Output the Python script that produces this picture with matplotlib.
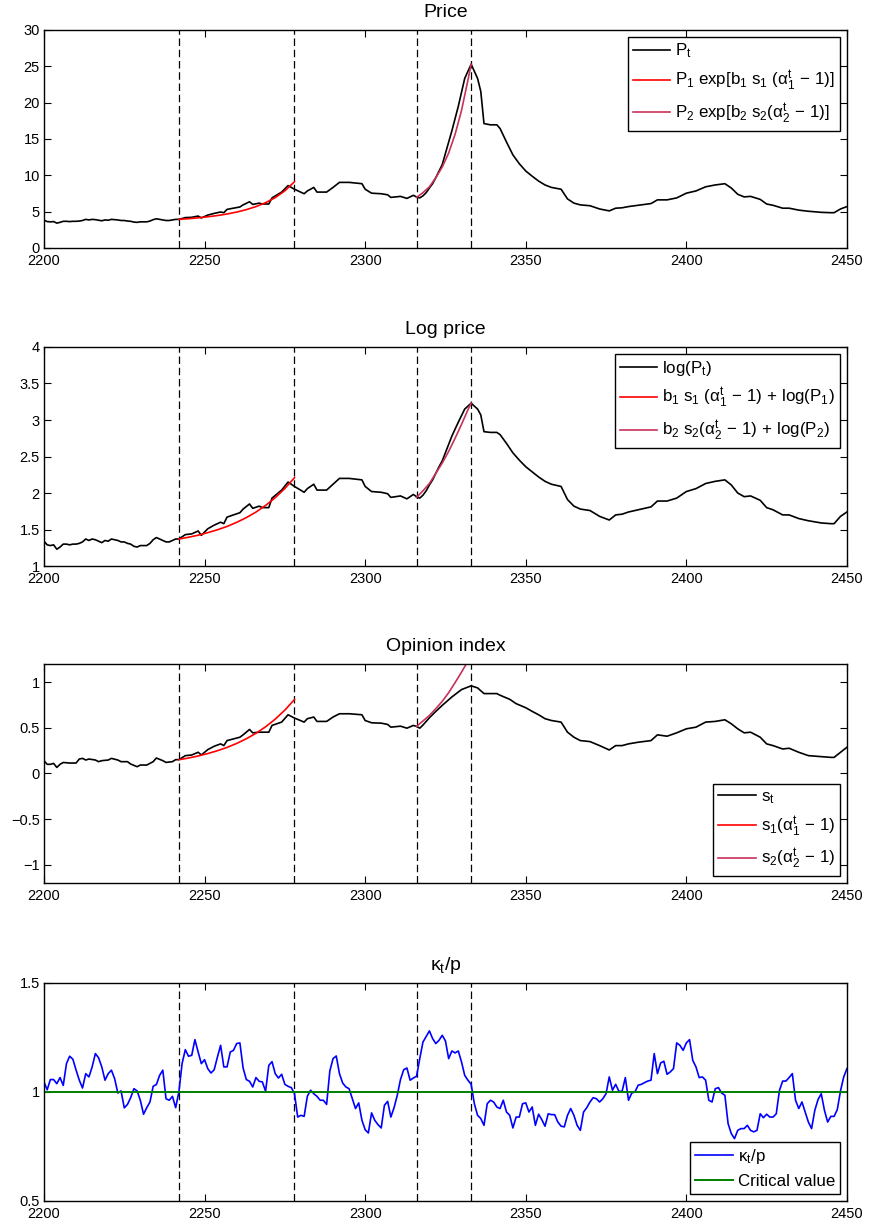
import numpy as np
import matplotlib
matplotlib.use('Agg')
import matplotlib.pyplot as plt
from matplotlib.ticker import FuncFormatter

plt.rcParams['font.family'] = ['Liberation Sans', 'DejaVu Sans']
plt.rcParams['mathtext.fontset'] = 'custom'
plt.rcParams['mathtext.rm'] = 'Liberation Sans'
plt.rcParams['mathtext.it'] = 'Liberation Sans:italic'
plt.rcParams['mathtext.default'] = 'regular'

# regime boundaries (dashed lines)
regime_days = [2242, 2278, 2316, 2333]

# log price
log_days = [2200, 2201, 2202, 2203, 2204, 2205, 2206, 2207, 2208, 2209, 2210, 2211, 2212,
            2213, 2214, 2215, 2216, 2217, 2218, 2219, 2220, 2221, 2222, 2223, 2224, 2225,
            2226, 2227, 2228, 2229, 2230, 2231, 2232, 2233, 2234, 2235, 2236, 2237, 2238,
            2239, 2240, 2241, 2242, 2244, 2246, 2248, 2249, 2251, 2253, 2255, 2256, 2257,
            2259, 2261, 2262, 2264, 2265, 2267, 2268, 2270, 2271, 2274, 2276, 2278, 2281,
            2282, 2284, 2285, 2288, 2290, 2292, 2295, 2299, 2300, 2302, 2305, 2307, 2308,
            2311, 2313, 2315, 2316, 2317, 2318, 2319, 2320, 2321, 2322, 2323, 2324, 2327,
            2329, 2331, 2333, 2335, 2336, 2337, 2339, 2341, 2342, 2344, 2346, 2348, 2350,
            2352, 2354, 2356, 2358, 2361, 2363, 2365, 2367, 2370, 2373, 2376, 2378, 2380,
            2382, 2385, 2389, 2391, 2394, 2397, 2400, 2403, 2406, 2409, 2412, 2414, 2416,
            2418, 2420, 2423, 2425, 2427, 2430, 2432, 2435, 2438, 2442, 2445, 2446, 2448, 2450]
log_price = [1.34, 1.29, 1.28, 1.29, 1.23, 1.26, 1.30, 1.30, 1.29, 1.30, 1.30, 1.31, 1.33,
             1.37, 1.35, 1.37, 1.36, 1.34, 1.32, 1.35, 1.34, 1.37, 1.36, 1.35, 1.33, 1.33,
             1.31, 1.30, 1.27, 1.26, 1.28, 1.28, 1.28, 1.31, 1.36, 1.39, 1.37, 1.35, 1.33,
             1.33, 1.35, 1.37, 1.37, 1.43, 1.44, 1.48, 1.42, 1.51, 1.56, 1.60, 1.58, 1.67,
             1.70, 1.73, 1.78, 1.85, 1.79, 1.82, 1.80, 1.80, 1.93, 2.04, 2.15, 2.09, 2.01,
             2.06, 2.12, 2.04, 2.04, 2.12, 2.20, 2.20, 2.18, 2.09, 2.02, 2.01, 1.99, 1.94,
             1.96, 1.92, 1.98, 1.95, 1.93, 1.97, 2.03, 2.11, 2.18, 2.27, 2.36, 2.44, 2.78,
             2.97, 3.15, 3.23, 3.15, 3.07, 2.84, 2.83, 2.83, 2.80, 2.68, 2.55, 2.45, 2.36,
             2.29, 2.22, 2.16, 2.12, 2.09, 1.91, 1.82, 1.78, 1.76, 1.68, 1.63, 1.70, 1.71,
             1.74, 1.77, 1.81, 1.89, 1.89, 1.93, 2.02, 2.06, 2.13, 2.16, 2.18, 2.11, 2.00,
             1.95, 1.96, 1.90, 1.80, 1.77, 1.70, 1.70, 1.65, 1.62, 1.59, 1.58, 1.58, 1.68, 1.74]
price = np.exp(log_price)

# opinion index s_t
s_days = [2200, 2201, 2202, 2203, 2204, 2205, 2206, 2208, 2210, 2211, 2212, 2213, 2214,
          2216, 2217, 2218, 2220, 2221, 2223, 2224, 2226, 2227, 2229, 2230, 2232, 2234,
          2235, 2237, 2238, 2240, 2241, 2242, 2244, 2246, 2248, 2249, 2251, 2253, 2255,
          2256, 2257, 2259, 2261, 2262, 2264, 2265, 2267, 2268, 2270, 2271, 2274, 2276,
          2278, 2281, 2282, 2284, 2285, 2288, 2290, 2292, 2295, 2299, 2300, 2302, 2305,
          2307, 2308, 2311, 2313, 2315, 2316, 2317, 2318, 2319, 2320, 2322, 2324, 2327,
          2330, 2333, 2335, 2337, 2339, 2341, 2342, 2345, 2347, 2350, 2352, 2354, 2356,
          2358, 2361, 2363, 2365, 2367, 2370, 2373, 2376, 2378, 2380, 2382, 2385, 2389,
          2391, 2394, 2397, 2400, 2403, 2406, 2409, 2412, 2414, 2416, 2418, 2420, 2423,
          2425, 2427, 2430, 2432, 2435, 2438, 2442, 2445, 2446, 2448, 2450]
opinion = [0.14, 0.10, 0.10, 0.11, 0.066, 0.10, 0.12, 0.114, 0.114, 0.158, 0.165, 0.147, 0.158,
           0.147, 0.129, 0.14, 0.147, 0.165, 0.147, 0.129, 0.129, 0.103, 0.074, 0.092, 0.092, 0.129,
           0.169, 0.14, 0.121, 0.129, 0.151, 0.151, 0.195, 0.202, 0.232, 0.202, 0.261, 0.298, 0.324,
           0.305, 0.36, 0.379, 0.397, 0.423, 0.482, 0.445, 0.452, 0.452, 0.452, 0.526, 0.5625, 0.643,
           0.607, 0.5625, 0.60, 0.618, 0.57, 0.57, 0.618, 0.654, 0.654, 0.643, 0.58, 0.555, 0.551,
           0.537, 0.507, 0.518, 0.496, 0.526, 0.515, 0.496, 0.53, 0.57, 0.61, 0.68, 0.746, 0.838,
           0.919, 0.96, 0.9375, 0.875, 0.875, 0.875, 0.857, 0.8125, 0.765, 0.72, 0.68, 0.643, 0.60,
           0.58, 0.5625, 0.452, 0.397, 0.36, 0.349, 0.305, 0.257, 0.305, 0.305, 0.324, 0.342, 0.36,
           0.423, 0.408, 0.445, 0.489, 0.507, 0.5625, 0.57, 0.588, 0.544, 0.489, 0.445, 0.452, 0.397,
           0.324, 0.305, 0.268, 0.276, 0.232, 0.195, 0.184, 0.176, 0.176, 0.232, 0.287]

# fitted curves for the two bubble regimes
fit1_days = [2242, 2245, 2248, 2251, 2254, 2257, 2260, 2263, 2266, 2269, 2272, 2275, 2278]
fit1_log = [1.370, 1.394, 1.422, 1.457, 1.496, 1.542, 1.598, 1.663, 1.739, 1.830, 1.936, 2.062, 2.210]
fit1_s = [0.150, 0.169, 0.191, 0.218, 0.249, 0.285, 0.329, 0.380, 0.440, 0.511, 0.595, 0.694, 0.810]
fit2_days = [2316, 2318, 2320, 2322, 2324, 2326, 2328, 2330, 2332, 2333]
fit2_log = [1.94, 2.03, 2.13, 2.27, 2.41, 2.57, 2.75, 2.94, 3.14, 3.23]
fit2_s = [0.515, 0.575, 0.635, 0.71, 0.79, 0.885, 0.995, 1.11, 1.23, 1.30]

# kappa_t / p, daily
kappa_days = list(range(2200, 2451))
kappa = [1.046, 1.01, 1.057, 1.057, 1.038, 1.066, 1.03, 1.13, 1.164, 1.15,
         1.10, 1.054, 1.018, 1.084, 1.069, 1.115, 1.176, 1.157, 1.115, 1.054,
         1.084, 1.10, 1.061, 0.995, 1.005, 0.927, 0.943, 0.974, 1.015, 1.005,
         0.962, 0.898, 0.928, 0.954, 1.026, 1.034, 1.076, 1.10, 0.969, 0.962,
         0.98, 0.928, 1.0, 1.13, 1.194, 1.164, 1.168, 1.24, 1.183, 1.13,
         1.148, 1.107, 1.087, 1.102, 1.16, 1.214, 1.115, 1.115, 1.183, 1.191,
         1.222, 1.225, 1.11, 1.057, 1.049, 1.023, 1.066, 1.049, 1.046, 1.003,
         1.122, 1.139, 1.084, 1.064, 1.081, 1.035, 1.026, 1.02, 0.992, 0.885,
         0.893, 0.888, 0.98, 1.008, 0.992, 0.98, 0.962, 0.962, 0.943, 1.096,
         1.153, 1.165, 1.084, 1.041, 1.023, 1.015, 0.969, 0.924, 0.95, 0.87,
         0.827, 0.812, 0.904, 0.87, 0.85, 0.835, 0.939, 0.957, 0.885, 0.928,
         0.985, 1.057, 1.102, 1.11, 1.054, 1.064, 1.072, 1.153, 1.229, 1.255,
         1.28, 1.245, 1.222, 1.237, 1.26, 1.234, 1.153, 1.188, 1.179, 1.188,
         1.138, 1.076, 1.054, 1.035, 0.946, 0.893, 0.878, 0.847, 0.946, 0.962,
         0.954, 0.931, 0.924, 0.962, 0.908, 0.893, 0.835, 0.885, 0.885, 0.946,
         0.95, 0.908, 0.931, 0.847, 0.898, 0.873, 0.843, 0.90, 0.896, 0.896,
         0.862, 0.843, 0.84, 0.893, 0.924, 0.893, 0.847, 0.824, 0.908, 0.928,
         0.954, 0.974, 0.969, 0.954, 0.969, 0.992, 1.069, 1.008, 1.035, 1.003,
         1.003, 1.066, 0.962, 0.995, 1.0, 1.031, 1.035, 1.043, 1.05, 1.054,
         1.176, 1.084, 1.133, 1.141, 1.081, 1.092, 1.107, 1.225, 1.214, 1.191,
         1.225, 1.24, 1.145, 1.115, 1.066, 1.069, 1.054, 0.962, 0.954, 1.015,
         1.02, 0.995, 0.985, 0.855, 0.809, 0.786, 0.824, 0.832, 0.832, 0.847,
         0.824, 0.817, 0.824, 0.90, 0.882, 0.898, 0.885, 0.885, 0.90, 1.008,
         1.05, 1.05, 1.066, 1.084, 0.962, 0.924, 0.954, 0.908, 0.862, 0.832,
         0.916, 0.965, 0.992, 0.916, 0.862, 0.888, 0.888, 0.919, 1.005, 1.069,
         1.107]
critical_value = 1.0

FIT2_COLOR = '#c8325a'

fig = plt.figure(figsize=(8.69, 12.27), dpi=100)
boxes = [(0.0506, 0.7979, 0.924, 0.1777),
         (0.0506, 0.5387, 0.924, 0.1785),
         (0.0506, 0.2804, 0.924, 0.1785),
         (0.0506, 0.0212, 0.924, 0.1777)]
axes = [fig.add_axes(b) for b in boxes]

fmt = FuncFormatter(lambda v, p: ('%g' % v).replace('-', '\u2212'))


def style(ax, yticks, ylim):
    ax.set_xlim(2200, 2450)
    ax.set_xticks([2200, 2250, 2300, 2350, 2400, 2450])
    ax.set_ylim(*ylim)
    ax.set_yticks(yticks)
    ax.yaxis.set_major_formatter(fmt)
    ax.tick_params(direction='in', top=True, right=True, length=5, width=0.8,
                   labelsize=10.5)
    ax.tick_params(axis='x', pad=4.5)
    ax.tick_params(axis='y', pad=3)
    for sp in ax.spines.values():
        sp.set_linewidth(1.0)
    for d in regime_days:
        ax.axvline(d, color='k', lw=0.9, dashes=(6.0, 3.0), zorder=1)


def add_legend(ax, loc):
    leg = ax.legend(loc=loc, fontsize=12.2, fancybox=False, framealpha=1,
                    edgecolor='k', handlelength=2.2, handletextpad=0.3,
                    borderaxespad=0.4, labelspacing=0.5, borderpad=0.3)
    leg.get_frame().set_linewidth(1.0)


# Price
ax = axes[0]
style(ax, [0, 5, 10, 15, 20, 25, 30], (0, 30))
ax.plot(log_days, price, color='k', lw=1.2, label=r'$P_t$')
ax.plot(fit1_days, np.exp(fit1_log), color='red', lw=1.2,
        label=r'$P_1\ exp[b_1\ s_1\ (\alpha_1^t\,-\,1)]$')
ax.plot(fit2_days, np.exp(fit2_log), color=FIT2_COLOR, lw=1.2,
        label=r'$P_2\ exp[b_2\ s_2(\alpha_2^t\,-\,1)]$')
ax.set_title('Price', fontsize=14, pad=9)
add_legend(ax, 'upper right')

# Log price
ax = axes[1]
style(ax, [1, 1.5, 2, 2.5, 3, 3.5, 4], (1, 4))
ax.plot(log_days, log_price, color='k', lw=1.2, label=r'$log(P_t)$')
ax.plot(fit1_days, fit1_log, color='red', lw=1.2,
        label=r'$b_1\ s_1\ (\alpha_1^t\,-\,1)\,+\,log(P_1)$')
ax.plot(fit2_days, fit2_log, color=FIT2_COLOR, lw=1.2,
        label=r'$b_2\ s_2(\alpha_2^t\,-\,1)\,+\,log(P_2)$')
ax.set_title('Log price', fontsize=14, pad=9)
add_legend(ax, 'upper right')

# Opinion index
ax = axes[2]
style(ax, [-1, -0.5, 0, 0.5, 1], (-1.2, 1.2))
ax.plot(s_days, opinion, color='k', lw=1.2, label=r'$s_t$')
ax.plot(fit1_days, fit1_s, color='red', lw=1.2, label=r'$s_1(\alpha_1^t\,-\,1)$')
ax.plot(fit2_days, fit2_s, color=FIT2_COLOR, lw=1.2, label=r'$s_2(\alpha_2^t\,-\,1)$')
ax.set_title('Opinion index', fontsize=14, pad=9)
add_legend(ax, 'lower right')

# kappa / p
ax = axes[3]
style(ax, [0.5, 1, 1.5], (0.5, 1.5))
ax.plot(kappa_days, kappa, color='blue', lw=1.2, label=r'$\kappa_t/p$')
ax.plot([2200, 2450], [critical_value, critical_value], color=(0, 0.5, 0), lw=1.4,
        label='Critical value')
ax.set_title(r'$\kappa_t/p$', fontsize=14, pad=9)
add_legend(ax, 'lower right')

fig.savefig('out.png', dpi=100)
